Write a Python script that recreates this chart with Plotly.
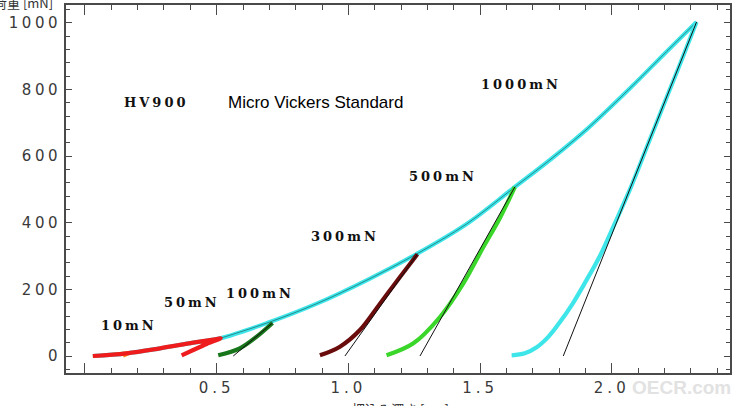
import plotly.graph_objects as go

# ---------------- data ----------------
loads = ["10mN", "50mN", "100mN", "300mN", "500mN", "1000mN"]

# common loading envelope (1000 mN loading curve)
env_x = [0.03, 0.158, 0.285, 0.411, 0.513, 0.702, 0.88, 1.069, 1.259, 1.449, 1.632, 1.765, 1.905, 2.082, 2.208, 2.322]
env_y = [0, 8, 23, 40, 53, 102, 157, 227, 306, 396, 507, 588, 680, 813, 913, 1002]

# 10 mN
l10_x = [0.03, 0.1, 0.17, 0.16, 0.145]
l10_y = [0, 4, 10, 5, 0]
# 50 mN (loading + unloading)
l50_x = [0.03, 0.158, 0.285, 0.411, 0.5, 0.515, 0.462, 0.411, 0.367]
l50_y = [0, 8, 23, 40, 51, 53, 36, 18, 2]
# 100 mN unloading
u100_x = [0.712, 0.652, 0.588, 0.506]
u100_y = [99, 58, 23, 2]
# 300 mN unloading
u300_x = [1.262, 1.196, 1.12, 1.044, 0.968, 0.892]
u300_y = [305, 237, 157, 78, 28, 2]
# 500 mN unloading
u500_x = [1.632, 1.576, 1.512, 1.436, 1.348, 1.247, 1.145]
u500_y = [507, 415, 326, 217, 117, 38, 2]
# 1000 mN unloading
u1000_x = [2.322, 2.268, 2.212, 2.142, 2.072, 2.01, 1.955, 1.895, 1.85, 1.80, 1.76, 1.715, 1.67, 1.62]
u1000_y = [1002, 893, 783, 644, 505, 395, 300, 215, 155, 98, 58, 26, 8, 2]

# tangent (stiffness) lines: residual-depth intercept -> peak
tan_h0 = [0.563, 0.987, 1.272, 1.816]
tan_hmax = [0.712, 1.262, 1.632, 2.322]
tan_pmax = [99, 305, 507, 1002]

x_tickvals = [0, 0.5, 1.0, 1.5, 2.0]
x_ticklabels = ["", "0.5", "1.0", "1.5", "2.0"]
y_tickvals = [0, 200, 400, 600, 800, 1000]
y_ticklabels = ["0", "200", "400", "600", "800", "1000"]

# ---------------- styling ----------------
C10 = "#ff8c1a"
C50 = "#ee1c1c"
C100 = "#17761a"
C300 = "#6a0c0c"
C500 = "#3ad62a"
C1000 = "#3ee6ea"
W = 4.2

L, R, T, B = 66, 7, 3, 33
PW, PH = 737 - L - R, 406 - T - B


def spaced(t, px):
    return f'<span style="letter-spacing:{px}px">{t}</span>'


def px_to_paper(px, py):
    return (px - L) / PW, 1 - (py - T) / PH


fig = go.Figure()


def line(x, y, color, width, shape="spline"):
    fig.add_trace(go.Scatter(x=x, y=y, mode="lines",
                             line=dict(color=color, width=width, shape=shape),
                             hoverinfo="skip", showlegend=False))


line(env_x, env_y, C1000, W)
line(env_x[4:], env_y[4:], "rgba(0,0,0,0.5)", 0.8)
line(u1000_x, u1000_y, C1000, W)
line(u500_x, u500_y, C500, W)
line(u300_x, u300_y, C300, W)
line(u100_x, u100_y, C100, W)
line(l10_x, l10_y, C10, 3)
line(l50_x, l50_y, C50, W)

for h0, hm, pm in zip(tan_h0, tan_hmax, tan_pmax):
    line([h0, hm], [0, pm], "#111111", 1, "linear")

# ---------------- labels ----------------
lab_font = dict(family="DejaVu Serif", size=13, color="#111111")
label_pos = {
    "10mN": (0.167, 92),
    "50mN": (0.408, 161),
    "100mN": (0.664, 188),
    "300mN": (0.987, 358),
    "500mN": (1.361, 540),
    "1000mN": (1.655, 814),
}
for name in loads:
    x, y = label_pos[name]
    fig.add_annotation(x=x, y=y, xref="x", yref="y", showarrow=False,
                       xanchor="center", yanchor="middle",
                       text="<b>" + spaced(name, 3) + "</b>", font=lab_font)

fig.add_annotation(x=0.273, y=760, xref="x", yref="y", showarrow=False,
                   xanchor="center", yanchor="middle",
                   text="<b>" + spaced("HV900", 3) + "</b>", font=lab_font)
fig.add_annotation(x=0.877, y=760, xref="x", yref="y", showarrow=False,
                   xanchor="center", yanchor="middle",
                   text="Micro Vickers Standard",
                   font=dict(family="Liberation Sans", size=17, color="#000000"))

# watermark
wx, wy = px_to_paper(681, 388)
fig.add_annotation(x=wx, y=wy, xref="paper", yref="paper", showarrow=False,
                   xanchor="center", yanchor="middle", text="<b>OECR.com</b>",
                   font=dict(family="Liberation Sans", size=19, color="#e2e2e2"))

# axis titles (cut off by the page edges, as in the reference)
tx, ty = px_to_paper(-8, 0)
fig.add_annotation(x=tx, y=ty, xref="paper", yref="paper", xanchor="left", yanchor="middle",
                   showarrow=False, text="荷重 [mN]",
                   font=dict(family="Noto Sans CJK JP", size=13, color="#333333"))
bx, by = px_to_paper(401, 409)
fig.add_annotation(x=bx, y=by, xref="paper", yref="paper", xanchor="center", yanchor="middle",
                   showarrow=False, text="押込み深さ [μm]",
                   font=dict(family="Noto Sans CJK JP", size=13, color="#333333"))

tick_font = dict(family="DejaVu Sans", size=15, color="#3a3a3a")
axis_common = dict(showgrid=False, zeroline=False, showline=True, linecolor="#4a4a4a",
                   linewidth=2, ticks="inside", tickcolor="#4a4a4a", tickwidth=1.3,
                   mirror="allticks", tickfont=tick_font, tickmode="array")

fig.update_xaxes(range=[-0.072, 2.449], tickvals=x_tickvals,
                 ticktext=[spaced(t, 4) for t in x_ticklabels], ticklen=10,
                 minor=dict(dtick=0.1, tick0=0, ticks="inside", ticklen=5,
                            tickcolor="#4a4a4a", tickwidth=1.3),
                 **axis_common)
fig.update_yaxes(range=[-51, 1053], tickvals=y_tickvals,
                 ticktext=[spaced(t, 3.5) for t in y_ticklabels], ticklen=6,
                 minor=dict(dtick=40, tick0=0, ticks="inside", ticklen=4,
                            tickcolor="#4a4a4a", tickwidth=1.3),
                 **axis_common)

fig.update_layout(width=737, height=406, margin=dict(l=L, r=R, t=T, b=B),
                  paper_bgcolor="white", plot_bgcolor="white", showlegend=False)

fig.write_html("out.html")
